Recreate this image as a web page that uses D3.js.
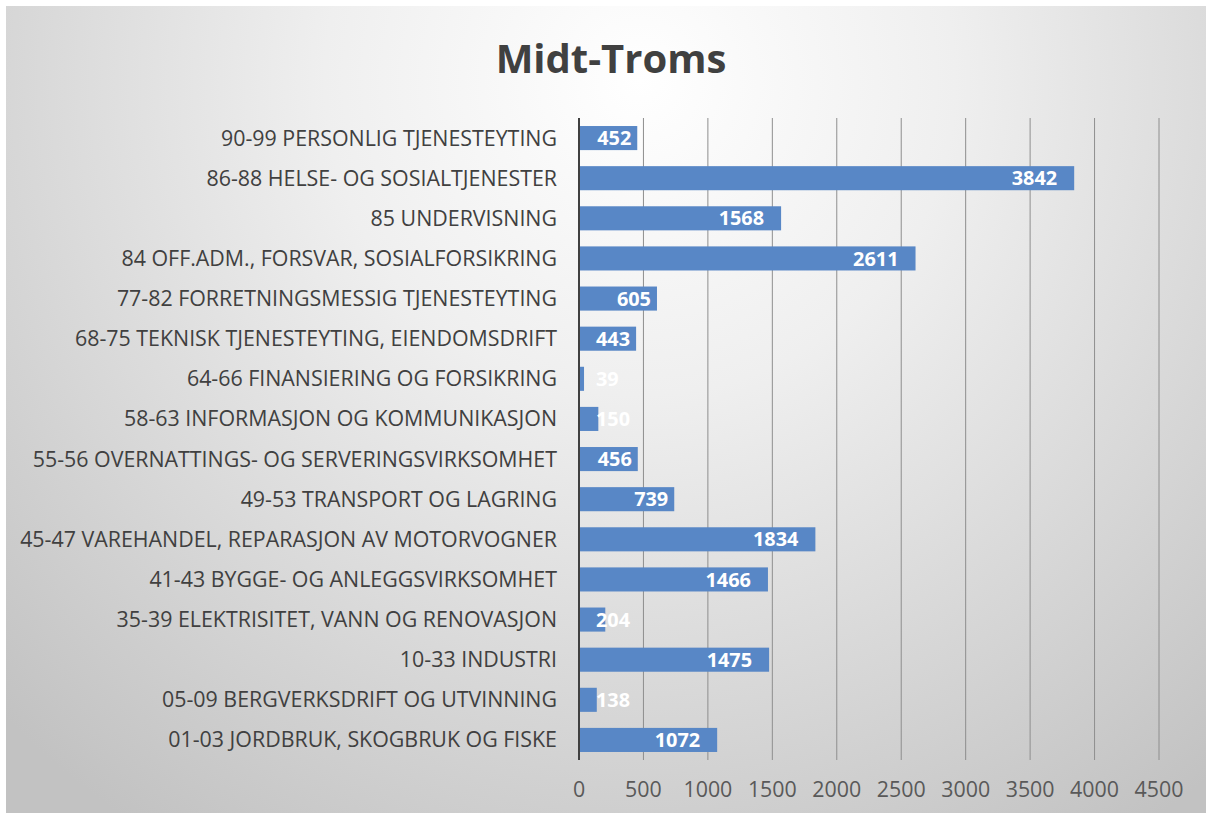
<!DOCTYPE html>
<html>
<head>
<meta charset="utf-8">
<script src="https://cdn.jsdelivr.net/npm/d3@7"></script>
<style>
  html, body { margin: 0; padding: 0; background: #fff; }
  text { font-family: "Open Sans", "Noto Sans", sans-serif; }
</style>
</head>
<body>
<script>
var categories = [
  "90-99 PERSONLIG TJENESTEYTING",
  "86-88 HELSE- OG SOSIALTJENESTER",
  "85 UNDERVISNING",
  "84 OFF.ADM., FORSVAR, SOSIALFORSIKRING",
  "77-82 FORRETNINGSMESSIG TJENESTEYTING",
  "68-75 TEKNISK TJENESTEYTING, EIENDOMSDRIFT",
  "64-66 FINANSIERING OG FORSIKRING",
  "58-63 INFORMASJON OG KOMMUNIKASJON",
  "55-56 OVERNATTINGS- OG SERVERINGSVIRKSOMHET",
  "49-53 TRANSPORT OG LAGRING",
  "45-47 VAREHANDEL, REPARASJON AV MOTORVOGNER",
  "41-43 BYGGE- OG ANLEGGSVIRKSOMHET",
  "35-39 ELEKTRISITET, VANN OG RENOVASJON",
  "10-33 INDUSTRI",
  "05-09 BERGVERKSDRIFT OG UTVINNING",
  "01-03 JORDBRUK, SKOGBRUK OG FISKE"
];
var values = [452, 3842, 1568, 2611, 605, 443, 39, 150, 456, 739, 1834, 1466, 204, 1475, 138, 1072];
var xTicks = [0, 500, 1000, 1500, 2000, 2500, 3000, 3500, 4000, 4500];
var title = "Midt-Troms";

var W = 1206, H = 813;
var svg = d3.select("body").append("svg")
  .attr("width", W)
  .attr("height", H);

// background gradient
var grad = svg.append("defs").append("radialGradient")
  .attr("id", "bg")
  .attr("gradientUnits", "userSpaceOnUse")
  .attr("cx", 640).attr("cy", 80)
  .attr("r", 900);
grad.append("stop").attr("offset", "0%").attr("stop-color", "#ffffff");
grad.append("stop").attr("offset", "35%").attr("stop-color", "#efefef");
grad.append("stop").attr("offset", "100%").attr("stop-color", "#c2c2c2");

svg.append("rect")
  .attr("x", 6).attr("y", 6)
  .attr("width", W - 6).attr("height", H - 6)
  .attr("fill", "url(#bg)");

var plotLeft = 579, plotRight = 1159, plotTop = 118, plotBottom = 760;

var x = d3.scaleLinear().domain([0, 4500]).range([plotLeft, plotRight]);
var y = d3.scaleBand().domain(categories).range([plotTop, plotBottom]).paddingInner(0.4).paddingOuter(0.2);

// gridlines
svg.append("g")
  .selectAll("line")
  .data(xTicks.slice(1))
  .enter()
  .append("line")
  .attr("x1", function (d) { return x(d); })
  .attr("x2", function (d) { return x(d); })
  .attr("y1", plotTop)
  .attr("y2", plotBottom)
  .attr("stroke", "#8e8e8e")
  .attr("stroke-width", 1);

// bars
svg.append("g")
  .selectAll("rect")
  .data(values)
  .enter()
  .append("rect")
  .attr("x", x(0))
  .attr("y", function (d, i) { return y(categories[i]); })
  .attr("width", function (d) { return x(d) - x(0); })
  .attr("height", y.bandwidth())
  .attr("fill", "#5887c6");

// axis line
svg.append("line")
  .attr("x1", plotLeft).attr("x2", plotLeft)
  .attr("y1", plotTop).attr("y2", plotBottom)
  .attr("stroke", "#404040")
  .attr("stroke-width", 2);

// category labels
var catLabels = svg.append("g")
  .selectAll("text")
  .data(categories)
  .enter()
  .append("text")
  .attr("x", 557)
  .attr("y", function (d) { return y(d) + y.bandwidth() / 2; })
  .attr("dy", "0.35em")
  .attr("text-anchor", "end")
  .attr("fill", "#404040")
  .style("font-size", "18px")
  .text(function (d) { return d; });

// fit the longest label to the reference width
var maxLen = 0;
catLabels.each(function () { maxLen = Math.max(maxLen, this.getComputedTextLength()); });
var fs = 18 * 537 / maxLen;
catLabels.style("font-size", fs + "px");

// value labels
svg.append("g")
  .selectAll("text")
  .data(values)
  .enter()
  .append("text")
  .attr("y", function (d, i) { return y(categories[i]) + y.bandwidth() / 2; })
  .attr("dy", "0.36em")
  .attr("text-anchor", "start")
  .attr("fill", "#ffffff")
  .style("font-size", (fs * 0.93) + "px")
  .style("font-weight", "bold")
  .text(function (d) { return d; })
  .attr("x", function (d) {
    var w = this.getComputedTextLength();
    var pad = d >= 1000 ? 17 : 6;
    return Math.max(x(d) - pad - w, x(0) + 17);
  });

// tick labels
svg.append("g")
  .selectAll("text")
  .data(xTicks)
  .enter()
  .append("text")
  .attr("x", function (d) { return x(d); })
  .attr("y", 790)
  .attr("dy", "0.35em")
  .attr("text-anchor", "middle")
  .attr("fill", "#595959")
  .style("font-size", fs + "px")
  .text(function (d) { return d; });

// title
svg.append("text")
  .attr("x", 611)
  .attr("y", 73)
  .attr("text-anchor", "middle")
  .attr("fill", "#404040")
  .style("font-size", "40px")
  .style("font-weight", "bold")
  .text(title);
</script>
</body>
</html>
